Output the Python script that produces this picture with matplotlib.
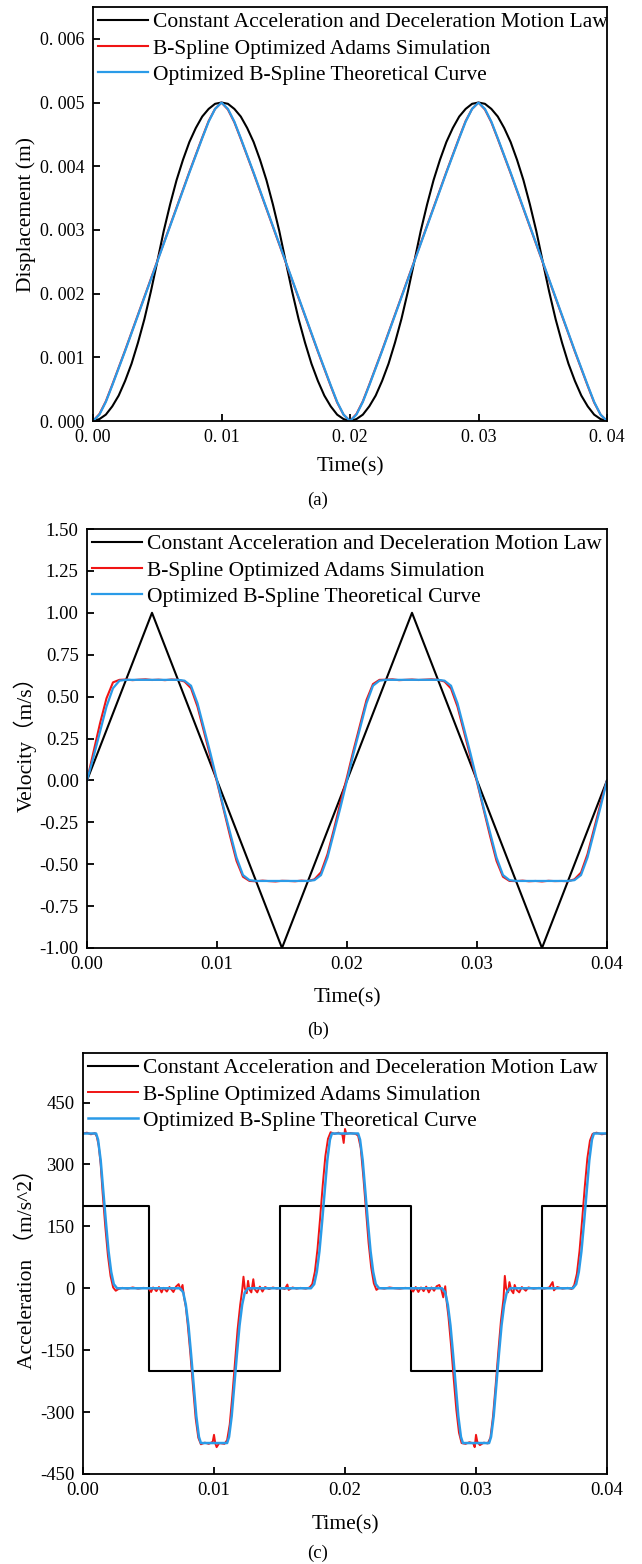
import numpy as np
import matplotlib
matplotlib.use("Agg")
import matplotlib.pyplot as plt

plt.rcParams['font.family'] = ['Liberation Serif', 'Noto Sans CJK SC']

# ---------------- data ----------------
series_names = ['Constant Acceleration and Deceleration Motion Law',
                'B-Spline Optimized Adams Simulation',
                'Optimized B-Spline Theoretical Curve']

# sample times for displacement / velocity, ms
time_ms = np.arange(0, 40.5, 0.5)

# (a) displacement, mm
const_disp_mm = [0.00, 0.03, 0.10, 0.23, 0.40, 0.63, 0.90, 1.23, 1.60, 2.03,
                 2.50, 2.98, 3.40, 3.78, 4.10, 4.38, 4.60, 4.78, 4.90, 4.98,
                 5.00, 4.98, 4.90, 4.78, 4.60, 4.38, 4.10, 3.78, 3.40, 2.98,
                 2.50, 2.03, 1.60, 1.23, 0.90, 0.63, 0.40, 0.23, 0.10, 0.03,
                 0.00, 0.03, 0.10, 0.23, 0.40, 0.63, 0.90, 1.23, 1.60, 2.03,
                 2.50, 2.98, 3.40, 3.78, 4.10, 4.38, 4.60, 4.78, 4.90, 4.98,
                 5.00, 4.98, 4.90, 4.78, 4.60, 4.38, 4.10, 3.78, 3.40, 2.98,
                 2.50, 2.03, 1.60, 1.23, 0.90, 0.63, 0.40, 0.23, 0.10, 0.03,
                 0.00]
theory_disp_mm = [0.00, 0.10, 0.30, 0.56, 0.83, 1.10, 1.38, 1.66, 1.94, 2.22,
                  2.50, 2.78, 3.06, 3.34, 3.62, 3.90, 4.17, 4.44, 4.70, 4.90,
                  5.00, 4.90, 4.70, 4.44, 4.17, 3.90, 3.62, 3.34, 3.06, 2.78,
                  2.50, 2.22, 1.94, 1.66, 1.38, 1.10, 0.83, 0.56, 0.30, 0.10,
                  0.00, 0.10, 0.30, 0.56, 0.83, 1.10, 1.38, 1.66, 1.94, 2.22,
                  2.50, 2.78, 3.06, 3.34, 3.62, 3.90, 4.17, 4.44, 4.70, 4.90,
                  5.00, 4.90, 4.70, 4.44, 4.17, 3.90, 3.62, 3.34, 3.06, 2.78,
                  2.50, 2.22, 1.94, 1.66, 1.38, 1.10, 0.83, 0.56, 0.30, 0.10,
                  0.00]
# Adams result lies under the theoretical curve in (a)
adams_disp_mm = [0.00, 0.11, 0.31, 0.57, 0.84, 1.11, 1.39, 1.67, 1.95, 2.23,
                 2.51, 2.79, 3.07, 3.35, 3.63, 3.91, 4.18, 4.45, 4.71, 4.90,
                 5.00, 4.89, 4.69, 4.43, 4.16, 3.89, 3.61, 3.33, 3.05, 2.77,
                 2.49, 2.21, 1.93, 1.65, 1.37, 1.09, 0.82, 0.55, 0.29, 0.10,
                 0.00, 0.11, 0.31, 0.57, 0.84, 1.11, 1.39, 1.67, 1.95, 2.23,
                 2.51, 2.79, 3.07, 3.35, 3.63, 3.91, 4.18, 4.45, 4.71, 4.90,
                 5.00, 4.89, 4.69, 4.43, 4.16, 3.89, 3.61, 3.33, 3.05, 2.77,
                 2.49, 2.21, 1.93, 1.65, 1.37, 1.09, 0.82, 0.55, 0.29, 0.10,
                 0.00]

# (b) velocity, m/s
const_vel_t_ms = [0, 5, 15, 25, 35, 40]
const_vel = [0.0, 1.0, -1.0, 1.0, -1.0, 0.0]
theory_vel = [0.00, 0.14, 0.29, 0.44, 0.55, 0.595, 0.60, 0.60, 0.60, 0.60,
              0.60, 0.60, 0.60, 0.60, 0.60, 0.595, 0.565, 0.46, 0.31, 0.16,
              0.00, -0.16, -0.31, -0.46, -0.565, -0.595, -0.60, -0.60, -0.60, -0.60,
              -0.60, -0.60, -0.60, -0.60, -0.60, -0.595, -0.565, -0.46, -0.31, -0.16,
              0.00, 0.16, 0.31, 0.46, 0.565, 0.595, 0.60, 0.60, 0.60, 0.60,
              0.60, 0.60, 0.60, 0.60, 0.60, 0.595, 0.565, 0.46, 0.31, 0.16,
              0.00, -0.16, -0.31, -0.46, -0.565, -0.595, -0.60, -0.60, -0.60, -0.60,
              -0.60, -0.60, -0.60, -0.60, -0.60, -0.595, -0.565, -0.46, -0.31, -0.16,
              0.00]
adams_vel = [0.00, 0.17, 0.34, 0.49, 0.585, 0.600, 0.602, 0.598, 0.601, 0.603,
             0.599, 0.601, 0.598, 0.602, 0.600, 0.590, 0.550, 0.44, 0.29, 0.14,
             -0.01, -0.17, -0.33, -0.48, -0.575, -0.600, -0.602, -0.598, -0.601, -0.603,
             -0.599, -0.600, -0.602, -0.598, -0.601, -0.590, -0.548, -0.44, -0.29, -0.13,
             0.02, 0.18, 0.33, 0.48, 0.575, 0.600, 0.601, 0.603, 0.598, 0.600,
             0.602, 0.599, 0.601, 0.603, 0.600, 0.590, 0.548, 0.44, 0.29, 0.14,
             -0.01, -0.17, -0.33, -0.48, -0.575, -0.600, -0.601, -0.598, -0.602, -0.600,
             -0.603, -0.599, -0.601, -0.600, -0.602, -0.590, -0.550, -0.44, -0.29, -0.14,
             0.00]

# (c) acceleration, m/s^2
const_acc_t_ms = [0, 5, 15, 25, 35, 40]
const_acc = [200, -200, 200, -200, 200, 200]

theory_acc_t_ms = [0, 1.0, 1.15, 1.35, 1.55, 1.75, 1.95, 2.15, 2.35, 2.6,
                   7.4, 7.65, 7.85, 8.05, 8.25, 8.45, 8.65, 8.85, 9.0,
                   11.0, 11.15, 11.35, 11.55, 11.75, 11.95, 12.15, 12.35, 12.6,
                   17.4, 17.65, 17.85, 18.05, 18.25, 18.45, 18.65, 18.85, 19.0,
                   21.0, 21.15, 21.35, 21.55, 21.75, 21.95, 22.15, 22.35, 22.6,
                   27.4, 27.65, 27.85, 28.05, 28.25, 28.45, 28.65, 28.85, 29.0,
                   31.0, 31.15, 31.35, 31.55, 31.75, 31.95, 32.15, 32.35, 32.6,
                   37.4, 37.65, 37.85, 38.05, 38.25, 38.45, 38.65, 38.85, 39.0, 40.0]
theory_acc = [375, 375, 360, 310, 235, 160, 90, 40, 10, 0,
              0, -10, -40, -90, -160, -235, -310, -360, -375,
              -375, -360, -310, -235, -160, -90, -40, -10, 0,
              0, 10, 40, 90, 160, 235, 310, 360, 375,
              375, 360, 310, 235, 160, 90, 40, 10, 0,
              0, -10, -40, -90, -160, -235, -310, -360, -375,
              -375, -360, -310, -235, -160, -90, -40, -10, 0,
              0, 10, 40, 90, 160, 235, 310, 360, 375, 375]

adams_acc_t_ms = [0.0, 0.3, 0.6, 0.9, 1.05, 1.2, 1.35, 1.5, 1.7, 1.9, 2.1, 2.3, 2.5, 2.7,
                  3.0, 3.4, 3.8, 4.2, 4.6, 5.0, 5.2, 5.35, 5.6, 5.8, 6.0, 6.15, 6.4, 6.6,
                  6.9, 7.1, 7.3, 7.45, 7.6, 7.7, 7.85, 8.0, 8.2, 8.4, 8.6, 8.8, 9.0, 9.3,
                  9.6, 9.9, 10.0, 10.1, 10.2, 10.4, 10.8, 11.0, 11.2, 11.4, 11.6, 11.8,
                  12.0, 12.15, 12.25, 12.35, 12.5, 12.6, 12.7, 12.85, 13.0, 13.1, 13.3,
                  13.5, 13.7, 13.9, 14.2, 14.5, 14.8, 15.1, 15.4, 15.6, 15.7, 16.0, 16.3,
                  16.6, 17.0, 17.3, 17.5, 17.7, 17.9, 18.1, 18.3, 18.5, 18.7, 18.9, 19.2,
                  19.5, 19.8, 19.9, 20.0, 20.1, 20.4, 20.8, 21.0, 21.2, 21.4, 21.6, 21.8,
                  22.0, 22.2, 22.4, 22.6, 23.0, 23.4, 23.8, 24.2, 24.6, 25.0, 25.2, 25.4,
                  25.6, 25.8, 26.0, 26.2, 26.4, 26.6, 26.8, 27.0, 27.2, 27.35, 27.5, 27.65,
                  27.75, 27.9, 28.1, 28.3, 28.5, 28.7, 28.9, 29.2, 29.5, 29.8, 29.9, 30.0,
                  30.1, 30.3, 30.6, 30.9, 31.1, 31.3, 31.5, 31.7, 31.9, 32.1, 32.2, 32.3,
                  32.45, 32.55, 32.7, 32.85, 32.95, 33.1, 33.3, 33.5, 33.8, 34.0, 34.4,
                  34.8, 35.2, 35.6, 35.85, 35.95, 36.2, 36.6, 37.0, 37.3, 37.5, 37.7, 37.9,
                  38.1, 38.3, 38.5, 38.7, 38.9, 39.2, 39.6, 40.0]
adams_acc = [375, 377, 373, 376, 368, 345, 300, 230, 150, 80, 30, 2, -6, -2,
             1, -1, 2, -1, 1, 0, -9, 2, -7, 3, -10, 1, -8, 3,
             -9, 4, 10, -4, 8, -20, -45, -90, -160, -240, -315, -362, -378, -374,
             -377, -372, -355, -376, -385, -375, -377, -368, -330, -260, -180, -100,
             -40, -5, 28, 0, -12, 18, -3, -10, 22, -2, -10,
             4, -8, 3, -2, 2, -1, 1, -2, 9, -4, 2, -1,
             1, -1, 2, 10, 40, 95, 170, 250, 320, 362, 378, 374,
             377, 372, 352, 386, 374, 376, 374, 370, 340, 270, 190, 110,
             50, 12, -4, 1, -1, 2, 0, -1, 1, 0, -8, 3,
             -9, 2, -7, 4, -10, 2, -6, 5, 8, -3, -22, 5,
             -30, -70, -140, -220, -295, -350, -375, -377, -373, -376, -385, -355,
             -372, -380, -374, -376, -362, -310, -235, -155, -80, -25, 30, 0,
             -10, 15, -5, -12, 8, -4, -10, 3, -6, 2, -1,
             1, -1, 2, 15, -5, 3, -1, 1, -2, 8, 35, 90,
             165, 245, 315, 358, 374, 377, 373, 375]

# ticks
time_ticks = [0.00, 0.01, 0.02, 0.03, 0.04]
time_labels_a = ['0. 00', '0. 01', '0. 02', '0. 03', '0. 04']
time_labels = ['0.00', '0.01', '0.02', '0.03', '0.04']
disp_ticks = [0.000, 0.001, 0.002, 0.003, 0.004, 0.005, 0.006]
disp_labels = ['0. 000', '0. 001', '0. 002', '0. 003', '0. 004', '0. 005', '0. 006']
vel_ticks = [-1.00, -0.75, -0.50, -0.25, 0.00, 0.25, 0.50, 0.75, 1.00, 1.25, 1.50]
vel_labels = ['-1.00', '-0.75', '-0.50', '-0.25', '0.00', '0.25', '0.50', '0.75',
              '1.00', '1.25', '1.50']
acc_ticks = [-450, -300, -150, 0, 150, 300, 450]
acc_labels = ['-450', '-300', '-150', '0', '150', '300', '450']

BLACK = '#000000'
RED = '#f01414'
BLUE = '#2a9be8'

W, H = 642, 1564


def rect(left, right, top, bottom):
    return [left / W, 1 - bottom / H, (right - left) / W, (bottom - top) / H]


def style_panel(ax, xlabels, yticks, ylabels, ylim, ylabel, ylab_x, xlab_y, tsize):
    ax.set_xlim(0, 0.04)
    ax.set_ylim(*ylim)
    ax.set_xticks(time_ticks)
    ax.set_xticklabels(xlabels)
    ax.set_yticks(yticks)
    ax.set_yticklabels(ylabels)
    for sp in ax.spines.values():
        sp.set_linewidth(1.3)
    ax.tick_params(direction='in', length=5, width=1.3, labelsize=tsize, pad=6)
    ax.set_xlabel('Time(s)', fontsize=15.5, va='center')
    ax.xaxis.set_label_coords(0.5, xlab_y)
    ax.set_ylabel(ylabel, fontsize=15.5, va='center')
    ax.yaxis.set_label_coords(ylab_x, 0.5)
    ax.legend(loc='upper left', frameon=False, fontsize=15.5, handlelength=2.3,
              handletextpad=0.25, labelspacing=0.28, borderaxespad=0.15,
              borderpad=0.1)


fig = plt.figure(figsize=(6.42, 15.64), dpi=100)

# (a) displacement
t = time_ms / 1000
ax1 = fig.add_axes(rect(93, 607, 7, 421))
ax1.plot(t, np.array(const_disp_mm) / 1000, color=BLACK, lw=1.5, label=series_names[0])
ax1.plot(t, np.array(adams_disp_mm) / 1000, color=RED, lw=1.5, label=series_names[1])
ax1.plot(t, np.array(theory_disp_mm) / 1000, color=BLUE, lw=1.6, label=series_names[2])
style_panel(ax1, time_labels_a, disp_ticks, disp_labels, (0, 0.0065),
            'Displacement (m)', -0.130, -0.111, 13)

# (b) velocity
ax2 = fig.add_axes(rect(87, 607, 529, 948))
ax2.plot(np.array(const_vel_t_ms) / 1000, const_vel, color=BLACK, lw=1.5,
         label=series_names[0])
ax2.plot(t, adams_vel, color=RED, lw=1.5, label=series_names[1])
ax2.plot(t, theory_vel, color=BLUE, lw=1.6, label=series_names[2])
style_panel(ax2, time_labels, vel_ticks, vel_labels, (-1.0, 1.5),
            'Velocity（m/s）', -0.119, -0.119, 13.5)

# (c) acceleration
ax3 = fig.add_axes(rect(83, 607, 1053, 1474))
ax3.step(np.array(const_acc_t_ms) / 1000, const_acc, where='post', color=BLACK,
         lw=1.5, label=series_names[0])
ax3.plot(np.array(adams_acc_t_ms) / 1000, adams_acc, color=RED, lw=1.4,
         label=series_names[1])
ax3.plot(np.array(theory_acc_t_ms) / 1000, theory_acc, color=BLUE, lw=1.8,
         label=series_names[2])
style_panel(ax3, time_labels, acc_ticks, acc_labels, (-450, 570),
            'Acceleration （m/s^2）', -0.107, -0.121, 13.5)

for txt, ypx in [('(a)', 500), ('(b)', 1030), ('(c)', 1553)]:
    fig.text(318 / W, 1 - ypx / H, txt, fontsize=13.5, ha='center', va='center')

fig.savefig('out.png', dpi=100)
